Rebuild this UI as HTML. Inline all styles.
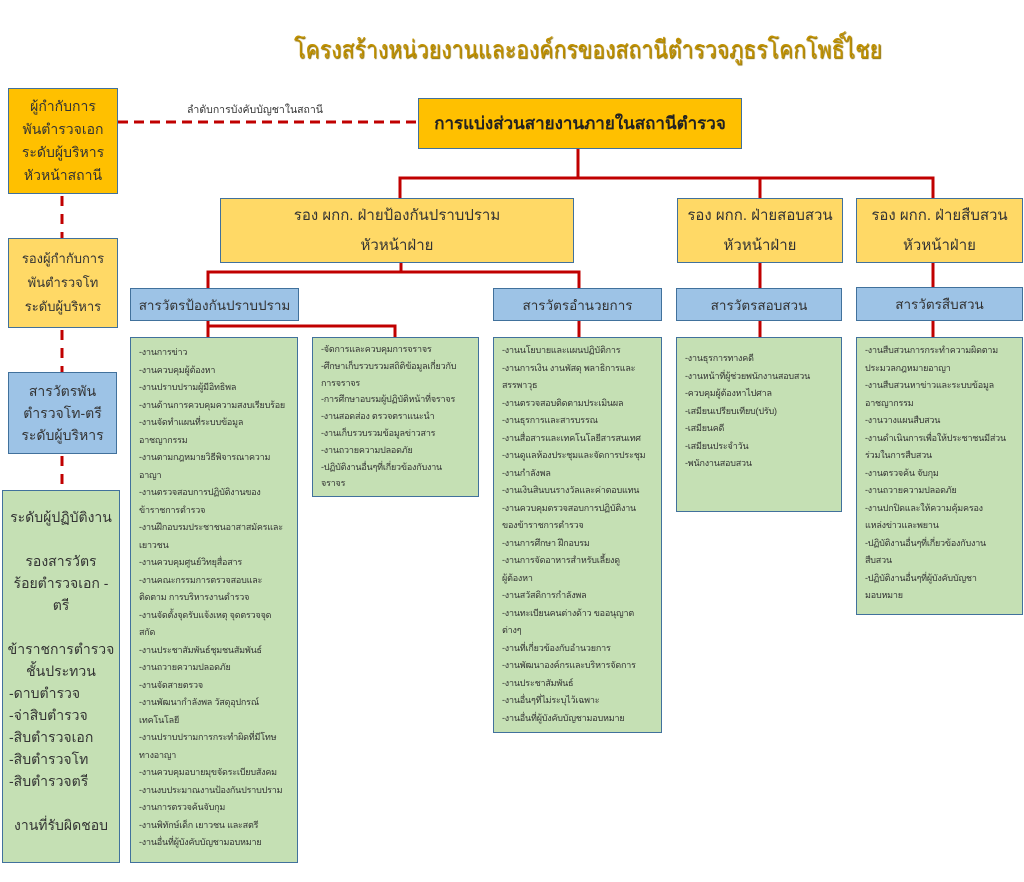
<!DOCTYPE html>
<html><head><meta charset="utf-8"><style>
body{margin:0;width:1024px;height:882px;background:#fff;position:relative;overflow:hidden;font-family:"Liberation Sans","Noto Sans CJK SC",sans-serif;}
.b{position:absolute;box-sizing:border-box;border:1.5px solid #41719C;color:#333;}
.o{background:#FFC000;}
.y{background:#FFD966;}
.bl{background:#9DC3E6;}
.g{background:#C5E0B4;}
.c{display:flex;align-items:center;justify-content:center;text-align:center;}
.list{font-size:9px;line-height:17.5px;padding:4px 8px;white-space:nowrap;color:#333;letter-spacing:-0.2px;overflow:hidden;}
.d{position:absolute;}
</style></head><body>
<div style="position:absolute;left:188px;top:30px;width:800px;text-align:center;font-size:25px;color:#C09000;text-shadow:1px 1px 1px #8a6d00;white-space:nowrap;transform:scaleX(0.85);transform-origin:center;">โครงสร้างหน่วยงานและองค์กรของสถานีตำรวจภูธรโคกโพธิ์ไชย</div>

<div class="b o c" style="left:8px;top:88px;width:110px;height:106px;font-size:14px;line-height:23px;">ผู้กำกับการ<br>พันตำรวจเอก<br>ระดับผู้บริหาร<br>หัวหน้าสถานี</div>
<div class="b y c" style="left:8px;top:238px;width:110px;height:90px;font-size:13px;line-height:24px;">รองผู้กำกับการ<br>พันตำรวจโท<br>ระดับผู้บริหาร</div>
<div class="b bl c" style="left:8px;top:372px;width:109px;height:82px;font-size:14px;line-height:22px;">สารวัตรพัน<br>ตำรวจโท-ตรี<br>ระดับผู้บริหาร</div>
<div class="b g" style="left:2px;top:490px;width:118px;height:373px;font-size:14px;line-height:22px;text-align:center;padding-top:15px;">ระดับผู้ปฏิบัติงาน<br><br>รองสารวัตร<br>ร้อยตำรวจเอก -<br>ตรี<br><br>ข้าราชการตำรวจ<br>ชั้นประทวน<div style="text-align:left;padding-left:6px;">-ดาบตำรวจ<br>-จ่าสิบตำรวจ<br>-สิบตำรวจเอก<br>-สิบตำรวจโท<br>-สิบตำรวจตรี</div><br>งานที่รับผิดชอบ</div>

<svg class="d" style="left:0;top:0" width="1024" height="882">
<line x1="118" y1="122" x2="418" y2="122" stroke="#C00000" stroke-width="3" stroke-dasharray="10,6"/>
<line x1="62" y1="196" x2="62" y2="238" stroke="#C00000" stroke-width="3" stroke-dasharray="10,8"/>
<line x1="62" y1="330" x2="62" y2="372" stroke="#C00000" stroke-width="3" stroke-dasharray="10,8"/>
<line x1="62" y1="456" x2="62" y2="490" stroke="#C00000" stroke-width="3" stroke-dasharray="10,8"/>
<g stroke="#C00000" stroke-width="3" fill="none">
<path d="M578 148V178M400 198V178H933V198M760 178V198"/>
<path d="M401 262V272M208 288V272H579V288"/>
<path d="M579 320V337M760 262V288M760 320V337M933 262V287M933 320V337"/>
<path d="M208 320V337M208 326H395V337"/>
</g>
</svg>
<div class="d" style="left:187px;top:101px;font-size:10.5px;color:#333;">ลำดับการบังคับบัญชาในสถานี</div>

<div class="b o c" style="left:418px;top:98px;width:324px;height:51px;font-size:17px;font-weight:bold;color:#222;">การแบ่งส่วนสายงานภายในสถานีตำรวจ</div>

<div class="b y c" style="left:220px;top:198px;width:354px;height:65px;font-size:15px;line-height:30px;">รอง ผกก. ฝ่ายป้องกันปราบปราม<br>หัวหน้าฝ่าย</div>
<div class="b y c" style="left:677px;top:198px;width:166px;height:65px;font-size:15px;line-height:30px;">รอง ผกก. ฝ่ายสอบสวน<br>หัวหน้าฝ่าย</div>
<div class="b y c" style="left:856px;top:198px;width:167px;height:65px;font-size:15px;line-height:30px;">รอง ผกก. ฝ่ายสืบสวน<br>หัวหน้าฝ่าย</div>

<div class="b bl c" style="left:130px;top:288px;width:169px;height:33px;font-size:13.5px;">สารวัตรป้องกันปราบปราม</div>
<div class="b bl c" style="left:493px;top:288px;width:169px;height:33px;font-size:13.5px;">สารวัตรอำนวยการ</div>
<div class="b bl c" style="left:676px;top:288px;width:166px;height:33px;font-size:13.5px;">สารวัตรสอบสวน</div>
<div class="b bl c" style="left:856px;top:287px;width:167px;height:34px;font-size:13.5px;">สารวัตรสืบสวน</div>

<div class="b g list" style="left:130px;top:337px;width:168px;height:526px;padding-top:6px;">-งานการข่าว<br>-งานควบคุมผู้ต้องหา<br>-งานปราบปรามผู้มีอิทธิพล<br>-งานด้านการควบคุมความสงบเรียบร้อย<br>-งานจัดทำแผนที่ระบบข้อมูล<br>อาชญากรรม<br>-งานตามกฎหมายวิธีพิจารณาความ<br>อาญา<br>-งานตรวจสอบการปฏิบัติงานของ<br>ข้าราชการตำรวจ<br>-งานฝึกอบรมประชาชนอาสาสมัครและ<br>เยาวชน<br>-งานควบคุมศูนย์วิทยุสื่อสาร<br>-งานคณะกรรมการตรวจสอบและ<br>ติดตาม การบริหารงานตำรวจ<br>-งานจัดตั้งจุดรับแจ้งเหตุ จุดตรวจจุด<br>สกัด<br>-งานประชาสัมพันธ์ชุมชนสัมพันธ์<br>-งานถวายความปลอดภัย<br>-งานจัดสายตรวจ<br>-งานพัฒนากำลังพล วัสดุอุปกรณ์<br>เทคโนโลยี<br>-งานปราบปรามการกระทำผิดที่มีโทษ<br>ทางอาญา<br>-งานควบคุมอบายมุขจัดระเบียบสังคม<br>-งานงบประมาณงานป้องกันปราบปราม<br>-งานการตรวจค้นจับกุม<br>-งานพิทักษ์เด็ก เยาวชน และสตรี<br>-งานอื่นที่ผู้บังคับบัญชามอบหมาย</div>
<div class="b g list" style="left:312px;top:337px;width:167px;height:160px;line-height:16.8px;padding-top:3px;">-จัดการและควบคุมการจราจร<br>-ศึกษาเก็บรวบรวมสถิติข้อมูลเกี่ยวกับ<br>การจราจร<br>-การศึกษาอบรมผู้ปฏิบัติหน้าที่จราจร<br>-งานสอดส่อง ตรวจตราแนะนำ<br>-งานเก็บรวบรวมข้อมูลข่าวสาร<br>-งานถวายความปลอดภัย<br>-ปฏิบัติงานอื่นๆที่เกี่ยวข้องกับงาน<br>จราจร</div>
<div class="b g list" style="left:493px;top:337px;width:169px;height:396px;">-งานนโยบายและแผนปฏิบัติการ<br>-งานการเงิน งานพัสดุ พลาธิการและ<br>สรรพาวุธ<br>-งานตรวจสอบติดตามประเมินผล<br>-งานธุรการและสารบรรณ<br>-งานสื่อสารและเทคโนโลยีสารสนเทศ<br>-งานดูแลห้องประชุมและจัดการประชุม<br>-งานกำลังพล<br>-งานเงินสินบนรางวัลและค่าตอบแทน<br>-งานควบคุมตรวจสอบการปฏิบัติงาน<br>ของข้าราชการตำรวจ<br>-งานการศึกษา ฝึกอบรม<br>-งานการจัดอาหารสำหรับเลี้ยงดู<br>ผู้ต้องหา<br>-งานสวัสดิการกำลังพล<br>-งานทะเบียนคนต่างด้าว ขออนุญาต<br>ต่างๆ<br>-งานที่เกี่ยวข้องกับอำนวยการ<br>-งานพัฒนาองค์กรและบริหารจัดการ<br>-งานประชาสัมพันธ์<br>-งานอื่นๆที่ไม่ระบุไว้เฉพาะ<br>-งานอื่นที่ผู้บังคับบัญชามอบหมาย</div>
<div class="b g list" style="left:676px;top:337px;width:166px;height:175px;padding-top:12px;">-งานธุรการทางคดี<br>-งานหน้าที่ผู้ช่วยพนักงานสอบสวน<br>-ควบคุมผู้ต้องหาไปศาล<br>-เสมียนเปรียบเทียบ(ปรับ)<br>-เสมียนคดี<br>-เสมียนประจำวัน<br>-พนักงานสอบสวน</div>
<div class="b g list" style="left:856px;top:337px;width:167px;height:278px;">-งานสืบสวนการกระทำความผิดตาม<br>ประมวลกฎหมายอาญา<br>-งานสืบสวนหาข่าวและระบบข้อมูล<br>อาชญากรรม<br>-งานวางแผนสืบสวน<br>-งานดำเนินการเพื่อให้ประชาชนมีส่วน<br>ร่วมในการสืบสวน<br>-งานตรวจค้น จับกุม<br>-งานถวายความปลอดภัย<br>-งานปกปิดและให้ความคุ้มครอง<br>แหล่งข่าวและพยาน<br>-ปฏิบัติงานอื่นๆที่เกี่ยวข้องกับงาน<br>สืบสวน<br>-ปฏิบัติงานอื่นๆที่ผู้บังคับบัญชา<br>มอบหมาย</div>
</body></html>
